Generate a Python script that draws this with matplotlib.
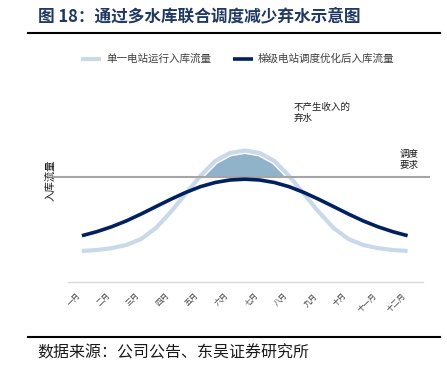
import numpy as np
import matplotlib
matplotlib.use('Agg')
import matplotlib.pyplot as plt
import matplotlib.patheffects as pe

plt.rcParams['font.family'] = ['Noto Sans CJK SC', 'DejaVu Sans']

months = ['一月', '二月', '三月', '四月', '五月', '六月',
          '七月', '八月', '九月', '十月', '十一月', '十二月']
# readings every half month, from 一月 to 十二月
pos = np.arange(0, 11.01, 0.5)
single = [31, 32, 33.8, 37, 43, 54, 70, 88, 106, 121, 129, 131.5,
          129, 121, 106, 88, 70, 54, 43, 37, 33.8, 32, 31]
cascade = [46.3, 50.3, 55.2, 61.1, 68, 75.4, 82.7, 89.5, 95.3, 99.5, 102, 102.8,
           102, 99.5, 95.3, 89.5, 82.7, 75.4, 68, 61.1, 55.2, 50.3, 46.3]
demand = 105

W, H = 447, 377
fig = plt.figure(figsize=(W / 100, H / 100), dpi=100)

def px(x0, y0, x1, y1):
    return [x0 / W, 1 - y1 / H, (x1 - x0) / W, (y1 - y0) / H]

ax = fig.add_axes(px(68, 90, 423, 282))
single = np.array(single)

ax.fill_between(pos, demand, single, where=single >= demand, interpolate=True,
                color='#91b3c9', lw=0, zorder=1)
ax.plot(pos, single, color='#c9d9ea', lw=3, zorder=3, solid_capstyle='butt',
        solid_joinstyle='round',
        path_effects=[pe.Stroke(linewidth=5, foreground='white'), pe.Normal()],
        label='单一电站运行入库流量')
ax.axhline(demand, xmin=-0.042, xmax=1.017, color='#a6a6a6', lw=1.5,
           clip_on=False, zorder=4)
ax.plot(pos, cascade, color='#002060', lw=2.6, zorder=5, solid_capstyle='butt',
        solid_joinstyle='round', label='梯级电站调度优化后入库流量')

ax.set_xlim(-0.47, 11.52)
ax.set_ylim(0, 192)
ax.set_xticks(range(12))
ax.set_xticklabels(months, rotation=45, ha='right', fontsize=5.5, color='#404040')
ax.tick_params(axis='x', length=0, pad=7)
ax.set_yticks([])
for s in ['top', 'right', 'left']:
    ax.spines[s].set_visible(False)
ax.spines['bottom'].set_color('#d9d9d9')
ax.spines['bottom'].set_linewidth(1)

ax.text(7.16, 179, '不产生收入的\n弃水', fontsize=6.8, va='top', ha='left',
        color='#1a1a1a', linespacing=1.2)
ax.text(10.74, 132, '调度\n要求', fontsize=6.8, va='top', ha='left',
        color='#1a1a1a', linespacing=1.2)
fig.text(50 / W, 1 - 180 / H, '入库流量', rotation=90, fontsize=7.5,
         ha='center', va='center', color='#1a1a1a')

fig.legend(loc='center', bbox_to_anchor=(238 / W, 1 - 59 / H), ncol=2,
           frameon=False, fontsize=7.6, handlelength=1.9, handletextpad=0.5,
           columnspacing=2.0, labelcolor='#404040')

fig.text(38 / W, 1 - 16 / H, '图 18：通过多水库联合调度减少弃水示意图',
         fontsize=12, fontweight='bold', color='#1f3864', va='center')
fig.add_artist(plt.Line2D([28 / W, 440 / W], [1 - 33 / H, 1 - 33 / H],
                          color='black', lw=1.5))
fig.add_artist(plt.Line2D([28 / W, 440 / W], [1 - 337 / H, 1 - 337 / H],
                          color='black', lw=1.5))
fig.text(37 / W, 1 - 353 / H, '数据来源：公司公告、东吴证券研究所',
         fontsize=11.5, color='#1a1a1a', va='center')

fig.savefig('out.png', dpi=100)
